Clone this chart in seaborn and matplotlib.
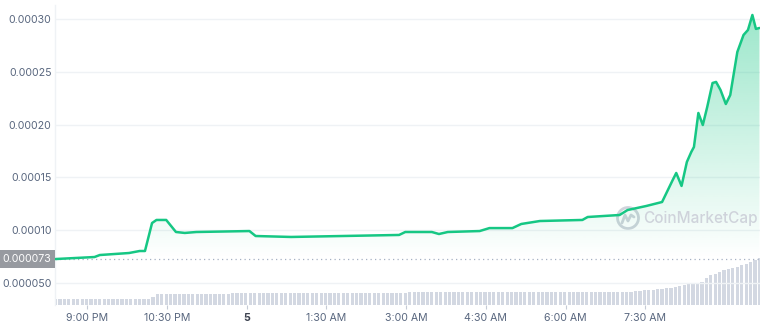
import numpy as np
import pandas as pd
import matplotlib
matplotlib.use("Agg")
import matplotlib.pyplot as plt
import seaborn as sns
from matplotlib.patches import Circle
from matplotlib.lines import Line2D
from matplotlib.transforms import IdentityTransform

# ---------------- data ----------------
price_times = ["20:24", "21:08", "21:14", "21:47", "21:59", "22:05", "22:13", "22:18",
               "22:29", "22:40", "22:50", "23:03", "00:03", "00:10", "00:50", "02:52",
               "02:59", "03:29", "03:37", "03:47", "04:23", "04:34", "05:00", "05:10",
               "05:31", "06:19", "06:25", "07:01", "07:10", "07:31", "07:49", "08:01",
               "08:05", "08:11", "08:17", "08:22", "08:25", "08:30", "08:35", "08:40",
               "08:46", "08:50", "08:55", "09:01", "09:06", "09:14", "09:21", "09:26",
               "09:31", "09:35", "09:39"]
price_values = [0.0000727, 0.0000746, 0.0000765, 0.0000784, 0.0000803, 0.0000803, 0.0001068,
                0.0001097, 0.0001097, 0.0000983, 0.0000974, 0.0000983, 0.0000992, 0.0000945,
                0.0000936, 0.0000955, 0.0000983, 0.0000983, 0.0000964, 0.0000983,
                0.0000992, 0.0001020, 0.0001020, 0.0001059, 0.0001087, 0.0001097, 0.0001125,
                0.0001144, 0.0001191, 0.0001229, 0.0001267, 0.0001475, 0.0001542, 0.0001419,
                0.0001646, 0.0001741, 0.0001788, 0.0002110, 0.0001996, 0.0002167, 0.0002394,
                0.0002404, 0.0002328, 0.0002195, 0.0002280, 0.0002688, 0.0002849, 0.0002896,
                0.0003038, 0.0002906, 0.0002915]

volume_start = "20:24"       # 5-minute bars
volume_k = [
    6, 6, 6, 6, 6, 6, 6, 6, 6, 6, 6, 6, 6, 6, 6, 6, 6, 6, 6, 6, 6, 6,
    8,
    11, 11, 11, 11, 11, 11, 11, 11, 11, 11, 11, 11, 11, 11, 11, 11, 11,
    12, 12, 12, 12, 12, 12, 12, 12, 12, 12,
    12, 12, 12, 12, 12, 12, 12, 12, 12, 12,
    12, 12, 12, 12, 12, 12, 12, 12, 12, 12,
    12, 12, 12, 12, 12, 12, 12, 12, 12, 12,
    13, 13, 13, 13, 13, 13, 13, 13, 13, 13,
    13, 13, 13, 13, 13, 13, 13, 13, 13, 13,
    13, 13, 13, 13, 13, 13, 13, 13, 13, 13,
    13, 13, 13, 13, 13, 13, 13, 13, 13, 13,
    13, 13, 13, 13, 13, 13, 13, 13, 13, 13,
    13,
    14, 14, 15, 15, 15, 16, 16, 17, 17, 18, 19, 20, 21, 21, 22, 23, 27, 30,
    31, 33, 35, 36, 37, 38, 40, 41, 43, 45, 47]

open_price = 0.000073
ytick_values = [0.00005, 0.00010, 0.00015, 0.00020, 0.00025, 0.00030]
ytick_labels = ["0.000050", "0.00010", "0.00015", "0.00020", "0.00025", "0.00030"]
xtick_times = ["21:00", "22:30", "00:00", "01:30", "03:00", "04:30", "06:00", "07:30"]
xtick_labels = ["9:00 PM", "10:30 PM", "5", "1:30 AM", "3:00 AM", "4:30 AM", "6:00 AM", "7:30 AM"]


def hours_since_9pm(s):
    h, m = map(int, s.split(":"))
    if h < 12:
        h += 24
    return (h * 60 + m - 21 * 60) / 60.0


price_h = np.array([hours_since_9pm(t) for t in price_times])
vol_h = hours_since_9pm(volume_start) + np.arange(len(volume_k)) * 5 / 60.0
xt = [hours_since_9pm(t) for t in xtick_times]

price_df = pd.DataFrame({"h": price_h, "price": price_values})
vol_df = pd.DataFrame({"h": np.round(vol_h, 6), "vol": volume_k})

# ---------------- style ----------------
sns.set_theme(style="white")
plt.rcParams["font.family"] = ["Inter", "DejaVu Sans"]

GREEN = "#16c784"
GREY_TXT = "#58667e"
GRID = "#eff2f5"

fig = plt.figure(figsize=(7.6, 3.27), dpi=100)
ax = fig.add_axes([55 / 760, 22 / 327, 705 / 760, 300 / 327])
ax2 = ax.twinx()
ax.set_zorder(2)
ax.patch.set_visible(False)

# volume bars
sns.barplot(data=vol_df, x="h", y="vol", ax=ax2, native_scale=True, color="#d3d8e2",
            saturation=1, width=0.72, errorbar=None, linewidth=0)
ax2.set_ylim(0, 300)
ax2.set_yticks([])
ax2.set_ylabel("")
ax2.set_xlabel("")

# price line
sns.lineplot(data=price_df, x="h", y="price", ax=ax, color=GREEN, linewidth=1.8, sort=False, zorder=4)

xmin, xmax = -0.61, 12.66
ymin, ymax = 0.00002917, 0.00031326

# gradient fill under the line
poly = ax.fill_between(price_h, price_values, open_price, color="none", linewidth=0)
path = poly.get_paths()[0]
n = 256
alpha = np.linspace(0, 0.42, n)
rgba = np.zeros((n, 1, 4))
rgba[..., 0] = 0x16 / 255
rgba[..., 1] = 0xc7 / 255
rgba[..., 2] = 0x84 / 255
rgba[:, 0, 3] = alpha
im = ax.imshow(rgba, extent=[xmin, xmax, open_price, max(price_values)], aspect="auto",
               origin="lower", zorder=3, interpolation="bilinear")
im.set_clip_path(path, transform=ax.transData)

# open price dotted line
ax.axhline(open_price, color="#a6b0c3", linestyle=(0, (1, 2.6)), linewidth=0.9, zorder=2)

ax.set_xlim(xmin, xmax)
ax.set_ylim(ymin, ymax)
ax2.set_xlim(xmin, xmax)

ax.set_yticks(ytick_values)
ax.set_yticklabels(ytick_labels)
ax.yaxis.tick_left()
ax.grid(True, axis="y", color=GRID, linewidth=1)
ax.grid(False, axis="x")
ax.set_xlabel("")
ax.set_ylabel("")
ax.tick_params(axis="y", length=0, pad=2.5, labelsize=7.6, labelcolor=GREY_TXT)

ax.set_xticks(xt)
ax.set_xticklabels(xtick_labels)
ax.tick_params(axis="x", bottom=True, length=3, width=0.8, color="#c5cbd6", pad=3,
               labelsize=7.6, labelcolor=GREY_TXT, direction="out")
lbl5 = ax.get_xticklabels()[2]
lbl5.set_fontweight("bold")
lbl5.set_color("#3d4350")

for a in (ax, ax2):
    for s in a.spines.values():
        s.set_visible(False)
ax.spines["left"].set_visible(True)
ax.spines["left"].set_color(GRID)
ax.spines["left"].set_linewidth(1)

# open price label box
fig.text(27 / 760, 1 - 259 / 327, "0.000073", ha="center", va="center", fontsize=7.6,
         color="white", bbox=dict(boxstyle="square,pad=0.38", fc="#979aa0", ec="none"))

# watermark
wm = "#cfd3db"
fig.text(643 / 760, 1 - 219 / 327, "CoinMarketCap", ha="left", va="center", fontsize=11,
         color=wm, fontweight="medium")
cx, cy = 628, 327 - 218
fig.add_artist(Circle((cx, cy), 10.5, transform=IdentityTransform(), fill=False, ec=wm, lw=2.0))
mx = [cx - 6, cx - 3, cx, cx + 3, cx + 6]
my = [cy - 5, cy + 3, cy - 3, cy + 3, cy + 1]
fig.add_artist(Line2D(mx, my, transform=IdentityTransform(), color=wm, lw=2.0))

fig.savefig("out.png", dpi=100, facecolor="white")
